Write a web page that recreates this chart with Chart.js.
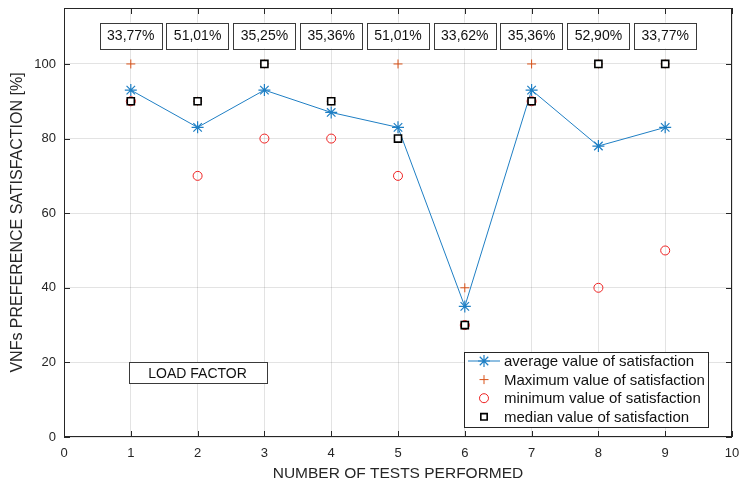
<!DOCTYPE html>
<html>
<head>
<meta charset="utf-8">
<script src="https://cdn.jsdelivr.net/npm/chart.js@4/dist/chart.umd.min.js"></script>
<style>
  html, body { margin: 0; padding: 0; background: #fff; }
  #wrap { width: 741px; height: 481px; }
</style>
</head>
<body>
<div id="wrap"><canvas id="satChart"></canvas></div>
<script>
// data
const tests = [1, 2, 3, 4, 5, 6, 7, 8, 9];
const avgValues = [93, 83, 93, 87, 83, 35, 93, 78, 83];
const maxValues = [100, 90, 100, 90, 100, 40, 100, 100, 100];
const minValues = [90, 70, 80, 80, 70, 30, 90, 40, 50];
const medianValues = [90, 90, 100, 90, 80, 30, 90, 100, 100];
const loadFactors = ['33,77%', '51,01%', '35,25%', '35,36%', '51,01%', '33,62%', '35,36%', '52,90%', '33,77%'];
const xTicks = [0, 1, 2, 3, 4, 5, 6, 7, 8, 9, 10];
const yTicks = [0, 20, 40, 60, 80, 100];
const seriesNames = [
    'average value of satisfaction',
    'Maximum value of satisfaction',
    'minimum value of satisfaction',
    'median value of satisfaction'
];

const FONT = "'Liberation Sans', Arial, Helvetica, sans-serif";
const AXIS = '#262626';

const toPoints = (vals) => tests.map((t, i) => ({ x: t, y: vals[i] }));

const datasets = [
    {
        label: seriesNames[0], data: toPoints(avgValues), showLine: true,
        borderColor: '#1f7fc4', backgroundColor: '#1f7fc4', borderWidth: 1,
        pointStyle: 'star', pointRadius: 6, pointBorderWidth: 1.2, order: 3
    },
    {
        label: seriesNames[1], data: toPoints(maxValues), showLine: false,
        borderColor: '#D95319', backgroundColor: '#D95319',
        pointStyle: 'cross', pointRadius: 4.5, pointBorderWidth: 1, order: 2
    },
    {
        label: seriesNames[2], data: toPoints(minValues), showLine: false,
        borderColor: '#ee2222', backgroundColor: 'rgba(0,0,0,0)',
        pointStyle: 'circle', pointRadius: 4.5, pointBorderWidth: 1, order: 1
    },
    {
        label: seriesNames[3], data: toPoints(medianValues), showLine: false,
        borderColor: '#000000', backgroundColor: '#ffffff',
        pointStyle: 'rect', pointRadius: 5, pointBorderWidth: 1.6, order: 0
    }
];

const matlabFrame = {
    id: 'matlabFrame',
    afterDraw(chart) {
        const { ctx, chartArea: a, scales: { x, y } } = chart;
        ctx.save();

        // axes box + inward ticks
        ctx.strokeStyle = AXIS;
        ctx.lineWidth = 1;
        ctx.strokeRect(a.left + 0.5, a.top + 0.5, a.right - a.left - 1, a.bottom - a.top - 1);
        ctx.beginPath();
        xTicks.forEach(v => {
            const px = Math.round(x.getPixelForValue(v)) + 0.5;
            ctx.moveTo(px, a.bottom); ctx.lineTo(px, a.bottom - 6);
            ctx.moveTo(px, a.top); ctx.lineTo(px, a.top + 6);
        });
        yTicks.forEach(v => {
            const py = Math.round(y.getPixelForValue(v)) + 0.5;
            ctx.moveTo(a.left, py); ctx.lineTo(a.left + 6, py);
            ctx.moveTo(a.right, py); ctx.lineTo(a.right - 6, py);
        });
        ctx.stroke();

        // load factor boxes above each test
        ctx.font = '14px ' + FONT;
        ctx.textAlign = 'center';
        ctx.textBaseline = 'middle';
        const by = y.getPixelForValue(107.6);
        loadFactors.forEach((txt, i) => {
            const bx = x.getPixelForValue(tests[i]);
            const w = ctx.measureText(txt).width + 15;
            const h = 26;
            ctx.fillStyle = '#fff';
            ctx.fillRect(bx - w / 2, by - h / 2, w, h);
            ctx.strokeStyle = '#3a3a3a';
            ctx.strokeRect(Math.round(bx - w / 2) + 0.5, Math.round(by - h / 2) + 0.5, Math.round(w), h);
            ctx.fillStyle = '#111';
            ctx.fillText(txt, bx, by + 1);
        });

        // LOAD FACTOR label box
        const lx0 = x.getPixelForValue(0.97), lx1 = x.getPixelForValue(3.03);
        const ly0 = y.getPixelForValue(20), ly1 = y.getPixelForValue(14.5);
        ctx.fillStyle = '#fff';
        ctx.fillRect(lx0, ly0, lx1 - lx0, ly1 - ly0);
        ctx.strokeStyle = '#3a3a3a';
        ctx.strokeRect(Math.round(lx0) + 0.5, Math.round(ly0) + 0.5, Math.round(lx1 - lx0), Math.round(ly1 - ly0));
        ctx.fillStyle = '#111';
        ctx.fillText('LOAD FACTOR', (lx0 + lx1) / 2, (ly0 + ly1) / 2 + 1);

        // legend, bottom right inside the axes
        const lgW = 244, lgH = 75;
        const lgL = a.right - 24 - lgW, lgT = a.bottom - 10 - lgH;
        ctx.fillStyle = '#fff';
        ctx.fillRect(lgL, lgT, lgW, lgH);
        ctx.strokeStyle = '#262626';
        ctx.strokeRect(Math.round(lgL) + 0.5, Math.round(lgT) + 0.5, lgW, lgH);
        ctx.font = '15px ' + FONT;
        ctx.textAlign = 'left';
        datasets.forEach((ds, i) => {
            const ry = lgT + 9 + i * 18.6;
            const mx = lgL + 20;
            if (ds.showLine) {
                ctx.strokeStyle = ds.borderColor;
                ctx.lineWidth = 1;
                ctx.beginPath();
                ctx.moveTo(lgL + 4, ry); ctx.lineTo(lgL + 36, ry);
                ctx.stroke();
            }
            ctx.strokeStyle = ds.borderColor;
            ctx.fillStyle = ds.backgroundColor;
            ctx.lineWidth = ds.pointBorderWidth;
            Chart.helpers.drawPoint(ctx, {
                pointStyle: ds.pointStyle,
                radius: ds.pointStyle === 'star' ? 6 : 4.5,
                rotation: 0,
                borderWidth: ds.pointBorderWidth
            }, mx, ry);
            ctx.fillStyle = '#111';
            ctx.fillText(ds.label, lgL + 40, ry + 1);
        });

        ctx.restore();
    }
};

new Chart(document.getElementById('satChart'), {
    type: 'scatter',
    data: { datasets },
    options: {
        responsive: true,
        maintainAspectRatio: false,
        animation: false,
        layout: { padding: { top: 8, right: 9, left: 0, bottom: 0 } },
        plugins: { legend: { display: false }, tooltip: { enabled: false } },
        scales: {
            x: {
                type: 'linear', min: 0, max: 10,
                afterFit: (s) => { s.height = 44; s.paddingLeft = 0; s.paddingRight = 0; },
                afterBuildTicks: (s) => { s.ticks = xTicks.map(v => ({ value: v })); },
                grid: { color: 'rgba(38,38,38,0.13)', drawTicks: false },
                border: { display: false },
                ticks: { color: AXIS, padding: 9, font: { family: FONT, size: 13 } },
                title: {
                    display: true, text: 'NUMBER OF TESTS PERFORMED', color: AXIS,
                    font: { family: FONT, size: 15.5, lineHeight: 1 }, padding: { top: 0, bottom: 0 }
                }
            },
            y: {
                type: 'linear', min: 0, max: 115,
                afterFit: (s) => { s.width = 64; s.paddingTop = 0; s.paddingBottom = 0; },
                afterBuildTicks: (s) => { s.ticks = yTicks.map(v => ({ value: v })); },
                grid: { color: 'rgba(38,38,38,0.13)', drawTicks: false },
                border: { display: false },
                ticks: { color: AXIS, padding: 8, font: { family: FONT, size: 13 } },
                title: {
                    display: true, text: 'VNFs PREFERENCE SATISFACTION [%]', color: AXIS,
                    font: { family: FONT, size: 16 }, padding: { top: 8, bottom: 0 }
                }
            }
        }
    },
    plugins: [matlabFrame]
});
</script>
</body>
</html>
